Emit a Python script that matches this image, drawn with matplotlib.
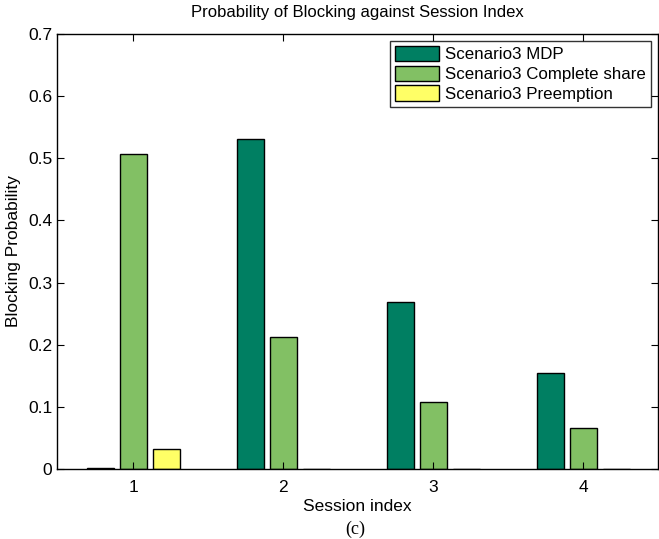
import numpy as np
import matplotlib.pyplot as plt

plt.rcParams['font.family'] = ['Liberation Sans', 'DejaVu Sans']

sessions = [1, 2, 3, 4]
series_names = ['Scenario3 MDP', 'Scenario3 Complete share', 'Scenario3 Preemption']
mdp = [0.002, 0.531, 0.269, 0.155]
complete_share = [0.507, 0.212, 0.108, 0.066]
preemption = [0.032, 0.0, 0.0, 0.0]
colors = ['#007f62', '#82c064', '#ffff66']

fig = plt.figure(figsize=(6.59, 5.39), dpi=100)
ax = fig.add_axes([57 / 659, 70 / 539, 601 / 659, 435 / 539])

x = np.array(sessions, dtype=float)
width = 0.18
offsets = [-0.22, 0.0, 0.22]
for vals, off, col, name in zip([mdp, complete_share, preemption], offsets, colors, series_names):
    ax.bar(x + off, vals, width, color=col, edgecolor='black', linewidth=1.0, label=name)

ax.set_xlim(0.49, 4.5)
ax.set_ylim(0, 0.7)
ax.set_xticks(sessions)
ax.set_yticks(np.arange(0, 0.71, 0.1))
ax.set_yticklabels(['0', '0.1', '0.2', '0.3', '0.4', '0.5', '0.6', '0.7'])
ax.tick_params(direction='in', top=True, right=True, labelsize=12.5, length=5)
ax.tick_params(axis='x', pad=8)
for s in ax.spines.values():
    s.set_linewidth(1.0)

ax.set_title('Probability of Blocking against Session Index', fontsize=12, pad=12)
ax.set_xlabel('Session index', fontsize=12.5, labelpad=3)
ax.set_ylabel('Blocking Probability', fontsize=12.5, labelpad=5)

leg = ax.legend(loc='upper right', fontsize=12.2, frameon=True, fancybox=False,
                edgecolor='black', handlelength=2.6, handleheight=1.0,
                borderaxespad=0.4, labelspacing=0.2, handletextpad=0.35,
                borderpad=0.3)
leg.get_frame().set_linewidth(1.0)

fig.text(355 / 659, 1 - 529 / 539, '(c)', ha='center', va='center',
         fontsize=13, family='Liberation Serif')

fig.savefig('out.png', dpi=100)
